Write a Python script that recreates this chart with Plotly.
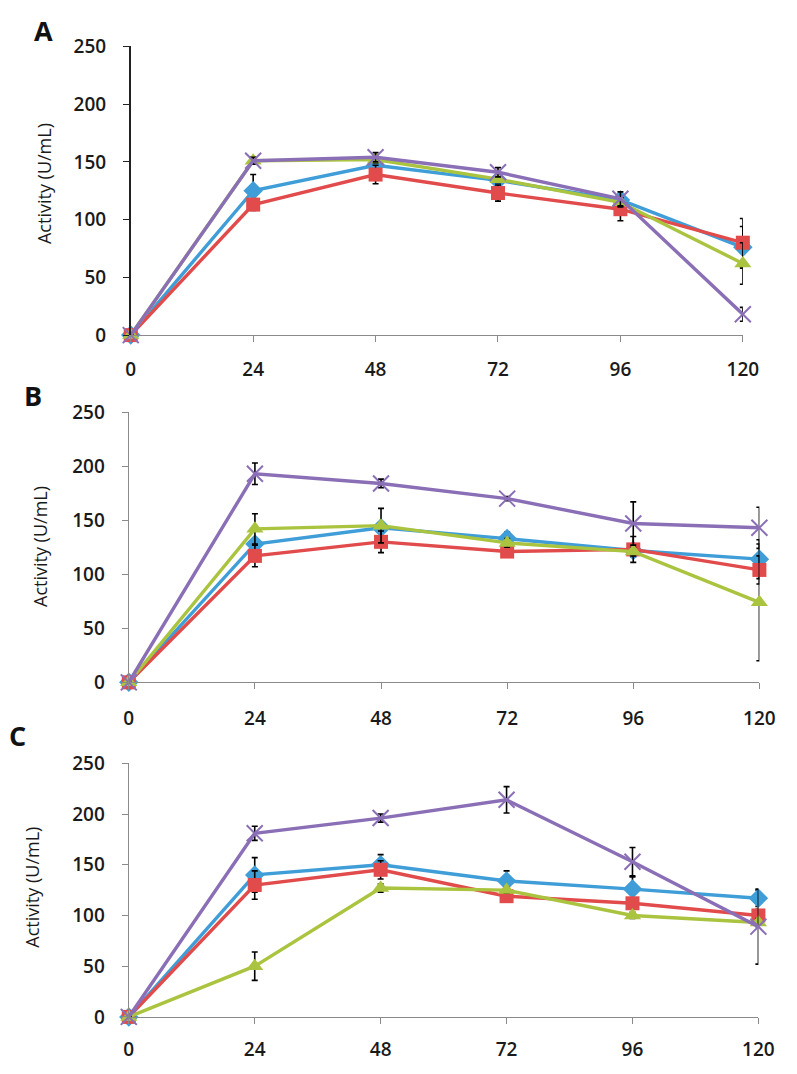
import plotly.graph_objects as go

hours = [0, 24, 48, 72, 96, 120]
y_ticks = [0, 50, 100, 150, 200, 250]

# Panel A
a_blue = [0, 125, 147, 134, 117, 76]
a_blue_err = [0, 14, 4, 4, 5, 18]
a_red = [0, 113, 139, 123, 109, 80]
a_red_err = [0, 5, 8, 7, 10, 21]
a_green = [0, 151, 152, 135, 115, 62]
a_green_err = [0, 3, 3, 3, 4, 18]
a_purple = [0, 151, 154, 141, 118, 18]
a_purple_err = [0, 3, 4, 4, 6, 6]

# Panel B
b_blue = [0, 128, 143, 133, 122, 114]
b_blue_err = [0, 4, 5, 6, 6, 18]
b_red = [0, 117, 130, 121, 123, 104]
b_red_err = [0, 10, 10, 3, 12, 13]
b_green = [0, 142, 145, 129, 121, 74]
b_green_err = [0, 14, 16, 4, 4, 54]
b_purple = [0, 193, 184, 170, 147, 143]
b_purple_err = [0, 10, 4, 2, 20, 19]

# Panel C
c_blue = [0, 140, 150, 134, 126, 117]
c_blue_err = [0, 17, 10, 10, 12, 8]
c_red = [0, 130, 145, 119, 112, 100]
c_red_err = [0, 14, 9, 4, 4, 6]
c_green = [0, 50, 127, 125, 100, 93]
c_green_err = [0, 14, 4, 3, 3, 4]
c_purple = [0, 181, 196, 214, 153, 89]
c_purple_err = [0, 7, 4, 13, 14, 37]

panel_labels = ["A", "B", "C"]
y_title = "Activity (U/mL)"

colors = {"blue": "#3F9DD8", "red": "#E24B4B", "green": "#ABC43F", "purple": "#8B6FB6"}
symbols = {"blue": "diamond", "red": "square", "green": "triangle-up", "purple": "x-thin"}
sizes = {"blue": 15, "red": 14, "green": 15, "purple": 16}

panels = [
    dict(blue=(a_blue, a_blue_err), red=(a_red, a_red_err), green=(a_green, a_green_err), purple=(a_purple, a_purple_err)),
    dict(blue=(b_blue, b_blue_err), red=(b_red, b_red_err), green=(b_green, b_green_err), purple=(b_purple, b_purple_err)),
    dict(blue=(c_blue, c_blue_err), red=(c_red, c_red_err), green=(c_green, c_green_err), purple=(c_purple, c_purple_err)),
]

PAGE_W, PAGE_H = 797, 1074
OFF = 8  # default body margin of the page
W, H = PAGE_W - 2 * OFF, PAGE_H - 2 * OFF
# target pixel boxes on the page: (left, right, top, bottom)
boxes = [(129, 758, 34, 330), (127, 775, 409, 686), (127, 774, 769, 1029)]
title_pos = [(40, 175), (36, 547), (28, 896)]
label_pos = [(39, 18), (29, 392), (13, 741)]
xlabel_standoff = [11, 13, 9]


def px(x):
    return (x - OFF) / W


def py(y):
    return 1 - (y - OFF) / H


fig = go.Figure()
layout = dict(
    width=W, height=H,
    margin=dict(l=0, r=0, t=0, b=0),
    paper_bgcolor="white", plot_bgcolor="white",
    showlegend=False,
    font=dict(family="Open Sans, DejaVu Sans, sans-serif", color="#1a1a1a"),
)
annotations = []

for i, pdata in enumerate(panels):
    n = "" if i == 0 else str(i + 1)
    xa, ya = "x" + n, "y" + n
    for key in ["blue", "red", "green", "purple"]:
        vals, errs = pdata[key]
        marker = dict(symbol=symbols[key], color=colors[key], size=sizes[key])
        if key == "purple":
            marker["line"] = dict(color=colors[key], width=2)
        fig.add_trace(go.Scatter(
            x=hours, y=vals, xaxis=xa, yaxis=ya, mode="lines+markers",
            line=dict(color=colors[key], width=3.4),
            marker=marker,
            error_y=dict(type="data", array=errs, visible=True, color="black",
                         thickness=1.6, width=3),
            cliponaxis=False,
        ))
    l, r, t, b = boxes[i]
    xdom = [px(l), px(r)]
    ydom = [py(b), py(t)]
    ycol = "#222222" if i == 0 else "#8a8a8a"
    layout["xaxis" + n] = dict(
        domain=xdom, anchor=ya, range=[0, 120], tickmode="array", tickvals=hours,
        ticktext=[str(h) for h in hours], showgrid=False, zeroline=False,
        showline=True, linecolor="#8a8a8a", linewidth=1.3,
        ticks="outside", ticklen=6, tickcolor="#8a8a8a", tickwidth=1.3,
        ticklabelstandoff=xlabel_standoff[i],
        tickfont=dict(size=19, weight=600, color="#1a1a1a"),
        fixedrange=True,
    )
    layout["yaxis" + n] = dict(
        domain=ydom, anchor=xa, range=[0, 250], tickmode="array", tickvals=y_ticks,
        showgrid=False, zeroline=False,
        showline=True, linecolor=ycol, linewidth=1.5 if i == 0 else 1.3,
        ticks="outside", ticklen=6, tickcolor=ycol, tickwidth=1.3,
        ticklabelstandoff=13,
        tickfont=dict(size=19, weight=600, color="#1a1a1a"),
        fixedrange=True,
    )
    tx, ty = title_pos[i]
    annotations.append(dict(
        text=y_title, x=px(tx), y=py(ty), xref="paper", yref="paper",
        showarrow=False, textangle=-90, xanchor="center", yanchor="middle",
        font=dict(size=18, color="#1a1a1a"),
    ))
    lx, ly = label_pos[i]
    annotations.append(dict(
        text="<b>" + panel_labels[i] + "</b>", x=px(lx), y=py(ly),
        xref="paper", yref="paper", showarrow=False,
        xanchor="center", yanchor="middle",
        font=dict(size=27, color="#111111"),
    ))

layout["annotations"] = annotations
fig.update_layout(**layout)
fig.write_html("out.html", config={"displayModeBar": False})
